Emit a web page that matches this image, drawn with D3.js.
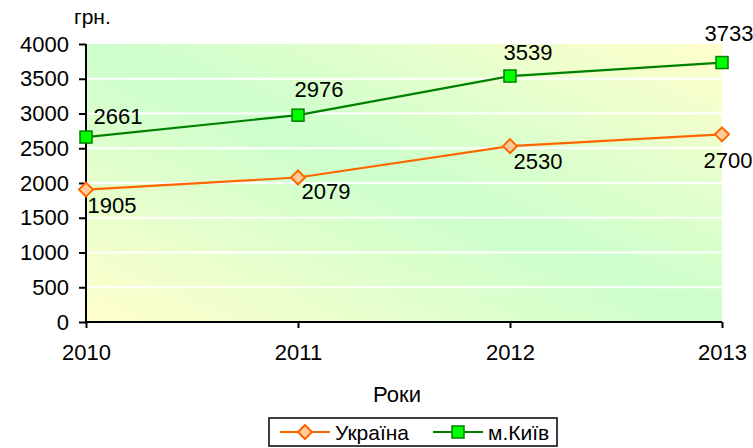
<!DOCTYPE html>
<html>
<head>
<meta charset="utf-8">
<script src="https://cdn.jsdelivr.net/npm/d3@7"></script>
<style>
  body { margin: 0; background: #fff; }
  svg text { font-family: "Liberation Sans", Arial, sans-serif; fill: #000; }
</style>
</head>
<body>
<svg id="chart" width="753" height="448"></svg>
<script>
const years = ['2010', '2011', '2012', '2013'];
const ukraine = [1905, 2079, 2530, 2700];
const kyiv = [2661, 2976, 3539, 3733];
const yTicks = [0, 500, 1000, 1500, 2000, 2500, 3000, 3500, 4000];
const seriesNames = ['Україна', 'м.Київ'];

// label offsets from the point (dx, dy to baseline)
const ukraineLabelOff = [[26, 23], [28, 21], [28, 23], [6, 34]];
const kyivLabelOff = [[32, -13], [21, -18], [18, -16], [7, -22]];

const svg = d3.select('#chart');
const margin = {left: 86, right: 31, top: 44, bottom: 126};
const W = 753, H = 448;
const FS = 22;

const x = d3.scalePoint().domain(years).range([margin.left, W - margin.right]);
const y = d3.scaleLinear().domain([0, 4000]).range([H - margin.bottom, margin.top]);

const defs = svg.append('defs');
const grad = defs.append('linearGradient')
    .attr('id', 'bg')
    .attr('x1', 0).attr('y1', 1).attr('x2', 1).attr('y2', 0);
grad.append('stop').attr('offset', 0).attr('stop-color', '#ffffcc');
grad.append('stop').attr('offset', 0.5).attr('stop-color', '#ccffcc');
grad.append('stop').attr('offset', 1).attr('stop-color', '#ffffcc');

svg.append('rect')
    .attr('x', margin.left).attr('y', y(4000))
    .attr('width', x('2013') - margin.left)
    .attr('height', y(0) - y(4000))
    .attr('fill', 'url(#bg)');

// gridlines
svg.append('g').selectAll('line')
    .data(yTicks.filter(d => d > 0 && d < 4000))
    .enter().append('line')
    .attr('x1', margin.left).attr('x2', x('2013'))
    .attr('y1', d => y(d)).attr('y2', d => y(d))
    .attr('stroke', '#fff').attr('stroke-width', 2);

// axes
const yAxis = svg.append('g')
    .attr('transform', `translate(${margin.left},0)`)
    .call(d3.axisLeft(y).tickValues(yTicks).tickFormat(d3.format('d')).tickSize(7).tickPadding(10));
const xAxis = svg.append('g')
    .attr('transform', `translate(0,${y(0)})`)
    .call(d3.axisBottom(x).tickSize(6).tickPadding(16));

[yAxis, xAxis].forEach(ax => {
    ax.select('.domain').attr('stroke', '#000').attr('stroke-width', 2);
    ax.selectAll('.tick line').attr('stroke', '#000').attr('stroke-width', 2);
    ax.selectAll('.tick text').attr('font-size', FS).attr('fill', '#000')
        .style('font-family', '"Liberation Sans", Arial, sans-serif');
});
yAxis.select('.domain').attr('d', `M0,${y(4000)}V${y(0)}`);
xAxis.select('.domain').attr('d', `M${margin.left},0H${x('2013')}`);

svg.append('text').attr('x', 74).attr('y', 24).attr('font-size', 21).text('грн.');
svg.append('text').attr('x', 397).attr('y', 402).attr('text-anchor', 'middle')
    .attr('font-size', FS).text('Роки');

const line = d3.line().x((d, i) => x(years[i])).y(d => y(d));

function drawSeries(values, color, offs, marker) {
    const g = svg.append('g');
    g.append('path').datum(values)
        .attr('d', line).attr('fill', 'none')
        .attr('stroke', color).attr('stroke-width', 2.2);
    values.forEach((v, i) => {
        marker(g, x(years[i]), y(v));
    });
    g.selectAll('text.lbl').data(values).enter().append('text')
        .attr('class', 'lbl')
        .attr('x', (d, i) => x(years[i]) + offs[i][0])
        .attr('y', (d, i) => y(d) + offs[i][1])
        .attr('text-anchor', 'middle')
        .attr('font-size', FS)
        .text(d => d);
}

function diamond(g, cx, cy) {
    g.append('path')
        .attr('d', `M${cx},${cy - 7}L${cx + 7},${cy}L${cx},${cy + 7}L${cx - 7},${cy}Z`)
        .attr('fill', '#ffcc99').attr('stroke', '#ff6600').attr('stroke-width', 2);
}
function square(g, cx, cy) {
    g.append('rect')
        .attr('x', cx - 6).attr('y', cy - 6).attr('width', 12).attr('height', 12)
        .attr('fill', '#00ff00').attr('stroke', '#008000').attr('stroke-width', 1.5);
}

drawSeries(ukraine, '#ff6600', ukraineLabelOff, diamond);
drawSeries(kyiv, '#008000', kyivLabelOff, square);

// legend
const lg = svg.append('g');
lg.append('rect').attr('x', 269).attr('y', 418).attr('width', 288).attr('height', 28)
    .attr('fill', '#fff').attr('stroke', '#000').attr('stroke-width', 1.5);
const items = [
    {name: seriesNames[0], color: '#ff6600', marker: diamond, x0: 280},
    {name: seriesNames[1], color: '#008000', marker: square, x0: 433}
];
items.forEach(it => {
    lg.append('line').attr('x1', it.x0).attr('x2', it.x0 + 50)
        .attr('y1', 432).attr('y2', 432)
        .attr('stroke', it.color).attr('stroke-width', 2.2);
    it.marker(lg, it.x0 + 25, 432);
    lg.append('text').attr('x', it.x0 + 55).attr('y', 440)
        .attr('font-size', 21).text(it.name);
});
</script>
</body>
</html>
